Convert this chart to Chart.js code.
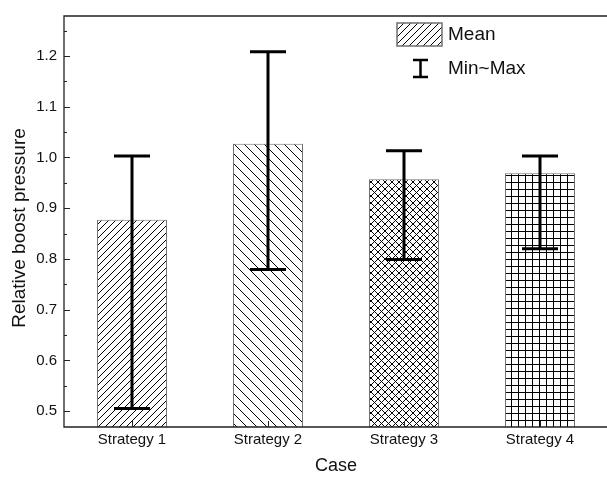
<!DOCTYPE html>
<html>
<head>
<meta charset="utf-8">
<script src="https://cdn.jsdelivr.net/npm/chart.js@4/dist/chart.umd.min.js"></script>
<style>
  html, body { margin: 0; padding: 0; background: #fff; overflow: hidden; }
  canvas { display: block; }
</style>
</head>
<body>
<canvas id="c" width="609" height="477"></canvas>
<script>
// Boost pressure relative to baseline, per control strategy
const categories = ['Strategy 1', 'Strategy 2', 'Strategy 3', 'Strategy 4'];
const meanValues = [0.877, 1.027, 0.957, 0.969];
const minValues  = [0.505, 0.779, 0.799, 0.820];
const maxValues  = [1.003, 1.208, 1.013, 1.003];
const yTickValues = [0.5, 0.6, 0.7, 0.8, 0.9, 1.0, 1.1, 1.2];
const yMinorValues = [0.55, 0.65, 0.75, 0.85, 0.95, 1.05, 1.15, 1.25];
const hatchKinds = ['fwd', 'back', 'cross', 'grid'];
const hatchSizes = [7, 10, 7, 7];
const legendLabels = ['Mean', 'Min~Max'];
const yTitle = 'Relative boost pressure';

const FONT = '"Liberation Sans", Arial, sans-serif';
const INK = '#111';

// Hatch fills built from small repeating tiles
function hatch(kind, s) {
  const c = document.createElement('canvas');
  c.width = s; c.height = s;
  const g = c.getContext('2d');
  g.fillStyle = '#fff';
  g.fillRect(0, 0, s, s);
  g.strokeStyle = '#000';
  g.lineWidth = 1;
  g.beginPath();
  if (kind === 'grid') {
    g.moveTo(0.5, 0); g.lineTo(0.5, s);
    g.moveTo(0, 0.5); g.lineTo(s, 0.5);
  }
  if (kind === 'fwd' || kind === 'cross') {
    g.moveTo(-1, s + 1); g.lineTo(s + 1, -1);
    g.moveTo(-1, 1); g.lineTo(1, -1);
    g.moveTo(s - 1, s + 1); g.lineTo(s + 1, s - 1);
  }
  if (kind === 'back' || kind === 'cross') {
    g.moveTo(-1, -1); g.lineTo(s + 1, s + 1);
    g.moveTo(s - 1, -1); g.lineTo(s + 1, 1);
    g.moveTo(-1, s - 1); g.lineTo(1, s + 1);
  }
  g.stroke();
  return g.createPattern(c, 'repeat');
}
const fills = hatchKinds.map((k, i) => hatch(k, hatchSizes[i]));

// Frame, inward tick marks, error bars, y title and the in-plot key
const decorations = {
  id: 'decorations',
  afterDatasetsDraw(chart) {
    const { ctx, chartArea: a, scales: { x, y } } = chart;
    ctx.save();

    // min~max whiskers
    ctx.strokeStyle = '#000';
    ctx.lineWidth = 3;
    ctx.lineCap = 'butt';
    categories.forEach((_, i) => {
      const px = x.getPixelForValue(i);
      const yLo = y.getPixelForValue(minValues[i]);
      const yHi = y.getPixelForValue(maxValues[i]);
      ctx.beginPath();
      ctx.moveTo(px, yLo); ctx.lineTo(px, yHi);
      ctx.moveTo(px - 18, yHi); ctx.lineTo(px + 18, yHi);
      ctx.moveTo(px - 18, yLo); ctx.lineTo(px + 18, yLo);
      ctx.stroke();
    });

    // axes frame (left, bottom, top)
    ctx.strokeStyle = '#222';
    ctx.lineWidth = 1.3;
    ctx.beginPath();
    ctx.moveTo(a.right + 2, a.top); ctx.lineTo(a.left, a.top);
    ctx.lineTo(a.left, a.bottom); ctx.lineTo(a.right + 2, a.bottom);
    ctx.stroke();

    // inward ticks
    ctx.lineWidth = 1;
    ctx.beginPath();
    yTickValues.forEach(v => {
      const py = Math.round(y.getPixelForValue(v)) + 0.5;
      ctx.moveTo(a.left, py); ctx.lineTo(a.left + 6, py);
    });
    yMinorValues.forEach(v => {
      const py = Math.round(y.getPixelForValue(v)) + 0.5;
      ctx.moveTo(a.left, py); ctx.lineTo(a.left + 3, py);
    });
    categories.forEach((_, i) => {
      const px = Math.round(x.getPixelForValue(i)) + 0.5;
      ctx.moveTo(px, a.bottom); ctx.lineTo(px, a.bottom - 6);
    });
    ctx.stroke();

    // y axis title, rotated
    ctx.fillStyle = INK;
    ctx.font = '19px ' + FONT;
    ctx.textAlign = 'center';
    ctx.textBaseline = 'middle';
    ctx.save();
    ctx.translate(20, 228);
    ctx.rotate(-Math.PI / 2);
    ctx.fillText(yTitle, 0, 0);
    ctx.restore();

    // key
    const kx = 397, ky = 23, kw = 45, kh = 23;
    ctx.fillStyle = hatch('fwd', 7);
    ctx.fillRect(kx, ky, kw, kh);
    ctx.strokeStyle = '#707070';
    ctx.lineWidth = 1.5;
    ctx.strokeRect(kx, ky, kw, kh);

    ctx.strokeStyle = '#000';
    ctx.lineWidth = 2.5;
    const ix = 420.5, iTop = 60, iBot = 77;
    ctx.beginPath();
    ctx.moveTo(ix, iTop); ctx.lineTo(ix, iBot);
    ctx.moveTo(ix - 7.5, iTop); ctx.lineTo(ix + 7.5, iTop);
    ctx.moveTo(ix - 7.5, iBot); ctx.lineTo(ix + 7.5, iBot);
    ctx.stroke();

    ctx.fillStyle = INK;
    ctx.font = '19px ' + FONT;
    ctx.textAlign = 'left';
    ctx.textBaseline = 'middle';
    ctx.fillText(legendLabels[0], 448, 35);
    ctx.fillText(legendLabels[1], 448, 69);
    ctx.restore();
  }
};

new Chart(document.getElementById('c'), {
  type: 'bar',
  data: {
    labels: categories,
    datasets: [{
      label: legendLabels[0],
      data: meanValues,
      backgroundColor: fills,
      borderColor: '#707070',
      borderWidth: 1,
      borderSkipped: false,
      categoryPercentage: 1,
      barPercentage: 0.515
    }]
  },
  options: {
    responsive: false,
    animation: false,
    devicePixelRatio: 1,
    layout: { padding: { top: 13, right: 1, left: 0, bottom: 0 } },
    plugins: { legend: { display: false }, tooltip: { enabled: false } },
    scales: {
      x: {
        grid: { display: false, drawTicks: false },
        border: { display: false },
        ticks: { color: INK, font: { family: FONT, size: 15 }, padding: 4 },
        title: {
          display: true, text: 'Case', color: INK,
          font: { family: FONT, size: 18 }, padding: { top: 0, bottom: 0 }
        },
        afterFit(scale) { scale.height = 50; }
      },
      y: {
        min: 0.4687,
        max: 1.2787,
        grid: { display: false, drawTicks: false },
        border: { display: false },
        afterBuildTicks(scale) { scale.ticks = yTickValues.map(v => ({ value: v })); },
        ticks: {
          color: INK, font: { family: FONT, size: 15 }, padding: 7,
          callback: v => Number(v).toFixed(1)
        },
        afterFit(scale) { scale.width = 64; }
      }
    }
  },
  plugins: [decorations]
});
</script>
</body>
</html>
